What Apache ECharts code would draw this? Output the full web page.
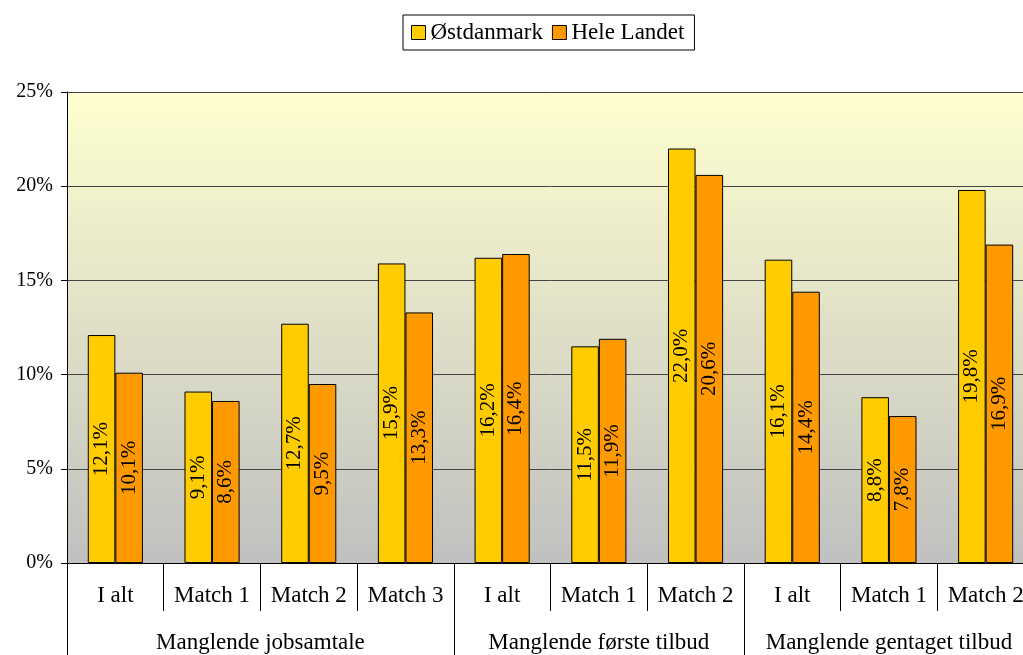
<!DOCTYPE html>
<html><head><meta charset="utf-8">
<script src="https://cdn.jsdelivr.net/npm/echarts@6/dist/echarts.min.js"></script>
<style>html,body{margin:0;padding:0;background:#fff;overflow:hidden;width:1023px;height:655px}#c{width:1034px;height:655px}</style>
</head><body><div id="c"></div>
<script>
const categories = ['I alt','Match 1','Match 2','Match 3','I alt','Match 1','Match 2','I alt','Match 1','Match 2'];
const groups = ['Manglende jobsamtale','Manglende første tilbud','Manglende gentaget tilbud'];
const groupBounds = [0,4,7,10];
const groupCenters = [2,5.5,8.5];
const seriesNames = ['Østdanmark','Hele Landet'];
const ostdanmark = [12.1,9.1,12.7,15.9,16.2,11.5,22.0,16.1,8.8,19.8];
const heleLandet = [10.1,8.6,9.5,13.3,16.4,11.9,20.6,14.4,7.8,16.9];
const yTicks = [0,5,10,15,20,25];

const font = 'Liberation Serif';
const chart = echarts.init(document.getElementById('c'));
const lbl = {
  show:true, position:'inside', rotate:90, color:'#000', fontFamily:font, fontSize:21,
  formatter: p => p.value.toFixed(1).replace('.', ',') + '%'
};
chart.setOption({
  animation:false,
  textStyle:{fontFamily:font},
  legend:{
    left:403, top:15, data:seriesNames, itemWidth:14, itemHeight:14, itemGap:9,
    padding:[6,10,6,8], borderColor:'#000', borderWidth:1, backgroundColor:'#fff',
    textStyle:{fontFamily:font, fontSize:23, color:'#000'}, icon:'rect',
    itemStyle:{borderColor:'#000', borderWidth:1}
  },
  grid:{left:67, top:92, bottom:92, right:0, show:true, borderWidth:0,
    backgroundColor:{type:'linear',x:0,y:0,x2:0,y2:1,colorStops:[{offset:0,color:'#FFFFD0'},{offset:1,color:'#C0C0C0'}]}},
  xAxis:[{
    type:'category', data:categories, position:'bottom',
    axisLine:{show:true, lineStyle:{color:'#000',width:1}},
    axisTick:{show:true, length:48, interval:0, lineStyle:{color:'#000'}},
    axisLabel:{margin:21, color:'#000', fontFamily:font, fontSize:23, interval:0}
  },{
    type:'value', min:0, max:10, position:'bottom',
    axisLine:{show:false}, splitLine:{show:false},
    axisTick:{show:true, length:100, customValues:groupBounds, lineStyle:{color:'#000'}},
    axisLabel:{margin:68, color:'#000', fontFamily:font, fontSize:23, customValues:groupCenters,
      formatter: v => groups[groupCenters.indexOf(v)] || ''}
  }],
  yAxis:{
    type:'value', min:0, max:25, interval:5,
    axisLine:{show:true, lineStyle:{color:'#000'}},
    axisTick:{show:true, length:6, lineStyle:{color:'#000'}},
    axisLabel:{margin:14, color:'#000', fontFamily:font, fontSize:20, formatter: v => yTicks.includes(v) ? v + '%' : ''},
    splitLine:{show:true, lineStyle:{color:'#444', width:1}}
  },
  series:[
    {name:seriesNames[0], type:'bar', data:ostdanmark, barGap:'0%', barCategoryGap:'43%',
     itemStyle:{color:'#FFCC00', borderColor:'#000', borderWidth:1}, label:lbl},
    {name:seriesNames[1], type:'bar', data:heleLandet, barGap:'0%', barCategoryGap:'43%',
     itemStyle:{color:'#FF9900', borderColor:'#000', borderWidth:1}, label:lbl}
  ]
});
</script></body></html>
